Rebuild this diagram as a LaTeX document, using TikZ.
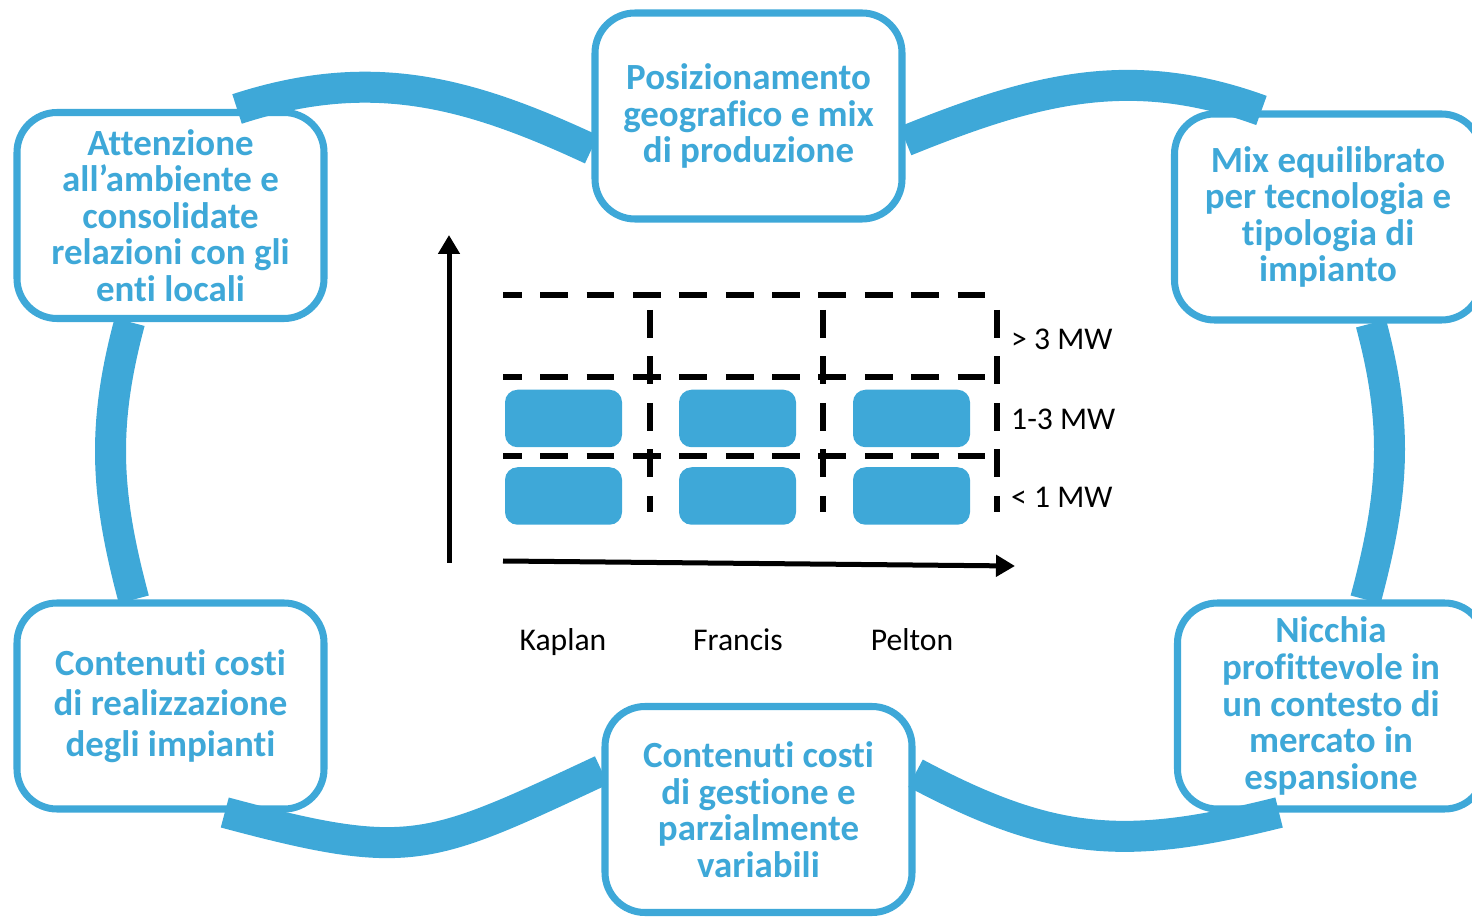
\documentclass[tikz,border=0pt]{standalone}
\usepackage{fontspec}
\setmainfont{Carlito}[Ligatures=NoCommon]
\usetikzlibrary{positioning, arrows.meta}
\definecolor{cycleblue}{RGB}{62,168,216}

\begin{document}
\begin{tikzpicture}
        % Define styles for shapes
        \tikzstyle{goalbox} = [draw=cycleblue, line width=4pt, rounded corners=0.8cm, fill=white, minimum width=6.14cm, minimum height=4.12cm, align=center, text=cycleblue, font=\fontsize{21}{20.8}\selectfont\bfseries]
        \tikzstyle{turbine} = [fill=cycleblue, rounded corners=0.25cm, minimum width=2.34cm, minimum height=1.15cm]
        \tikzstyle{cyclearc} = [draw=cycleblue, line width=0.62cm]
        \tikzstyle{gridline} = [line width=0.12cm]
        \tikzstyle{axislabel} = [font=\fontsize{18}{18}\selectfont]

        \useasboundingbox (0,0) rectangle (29.44,-18.34);

        % Draw shapes
        \node[goalbox] (pos) at (14.97, -2.32) {Posizionamento\\geografico e mix\\di produzione};
        \node[goalbox] (mix) at (26.56, -4.34) {Mix equilibrato\\per tecnologia e\\tipologia di\\impianto};
        \node[goalbox] (nic) at (26.62, -14.12) {Nicchia\\profittevole in\\un contesto di\\mercato in\\espansione};
        \node[goalbox] (ges) at (15.17, -16.19) {Contenuti costi\\di gestione e\\parzialmente\\variabili};
        \node[goalbox, font=\fontsize{21}{23}\selectfont\bfseries] (rea) at (3.41, -14.12) {Contenuti costi\\di realizzazione\\degli impianti};
        \node[goalbox] (att) at (3.41, -4.31) {Attenzione\\all’ambiente e\\consolidate\\relazioni con gli\\enti locali};

        % Draw arcs
        \draw[cyclearc] (att.58) to[out=18, in=155] (pos.192);
        \draw[cyclearc] (pos.-9) to[out=22, in=160] (mix.122);
        \draw[cyclearc] (mix.-68) to[out=-75, in=75] (nic.72);
        \draw[cyclearc] (ges.13) to[out=-28, in=194, looseness=1.1] (nic.-116);
        \draw[cyclearc] (rea.-63) to[out=-15, in=205, looseness=1.3] (ges.166);
        \draw[cyclearc] (att.-111) to[out=-105, in=105] (rea.109);

        % Draw grid
        \draw[gridline, dash pattern=on 0.555cm off 0.372cm, dash phase=0.18cm] (10.06, -5.9) -- (19.74, -5.9);
        \draw[gridline, dash pattern=on 0.555cm off 0.372cm, dash phase=0.18cm] (10.06, -7.54) -- (19.74, -7.54);
        \draw[gridline, dash pattern=on 0.555cm off 0.372cm, dash phase=0.18cm] (10.06, -9.12) -- (19.74, -9.12);
        \draw[gridline, dash pattern=on 0.56cm off 0.37cm] (13.0, -6.2) -- (13.0, -10.24);
        \draw[gridline, dash pattern=on 0.56cm off 0.37cm] (16.46, -6.2) -- (16.46, -10.24);
        \draw[gridline, dash pattern=on 0.56cm off 0.37cm] (19.94, -6.2) -- (19.94, -10.24);

        \node[turbine] (kap1) at (11.27, -8.37) {};
        \node[turbine] (fra1) at (14.75, -8.37) {};
        \node[turbine] (pel1) at (18.23, -8.37) {};
        \node[turbine] (kap2) at (11.27, -9.92) {};
        \node[turbine] (fra2) at (14.75, -9.92) {};
        \node[turbine] (pel2) at (18.23, -9.92) {};

        \node[axislabel, anchor=west] (big) at (20.1, -6.78) {> 3 MW};
        \node[axislabel, anchor=west] (mid) at (20.1, -8.38) {1-3 MW};
        \node[axislabel, anchor=west] (small) at (20.1, -9.94) {< 1 MW};

        \node[axislabel, anchor=base] (kaplan) at (11.26, -13.0) {Kaplan};
        \node[axislabel, anchor=base] (francis) at (14.76, -13.0) {Francis};
        \node[axislabel, anchor=base] (pelton) at (18.24, -13.0) {Pelton};

        % Draw axes
        \coordinate (ybot) at (8.98, -11.26);
        \coordinate (ytop) at (8.98, -4.7);
        \coordinate (xleft) at (10.06, -11.22);
        \coordinate (xright) at (20.3, -11.32);
        \draw[line width=0.1cm, -{Triangle[length=0.38cm, width=0.42cm]}] (ybot) -- (ytop);
        \draw[line width=0.1cm, -{Triangle[length=0.38cm, width=0.42cm]}] (xleft) -- (xright);
\end{tikzpicture}
\end{document}
